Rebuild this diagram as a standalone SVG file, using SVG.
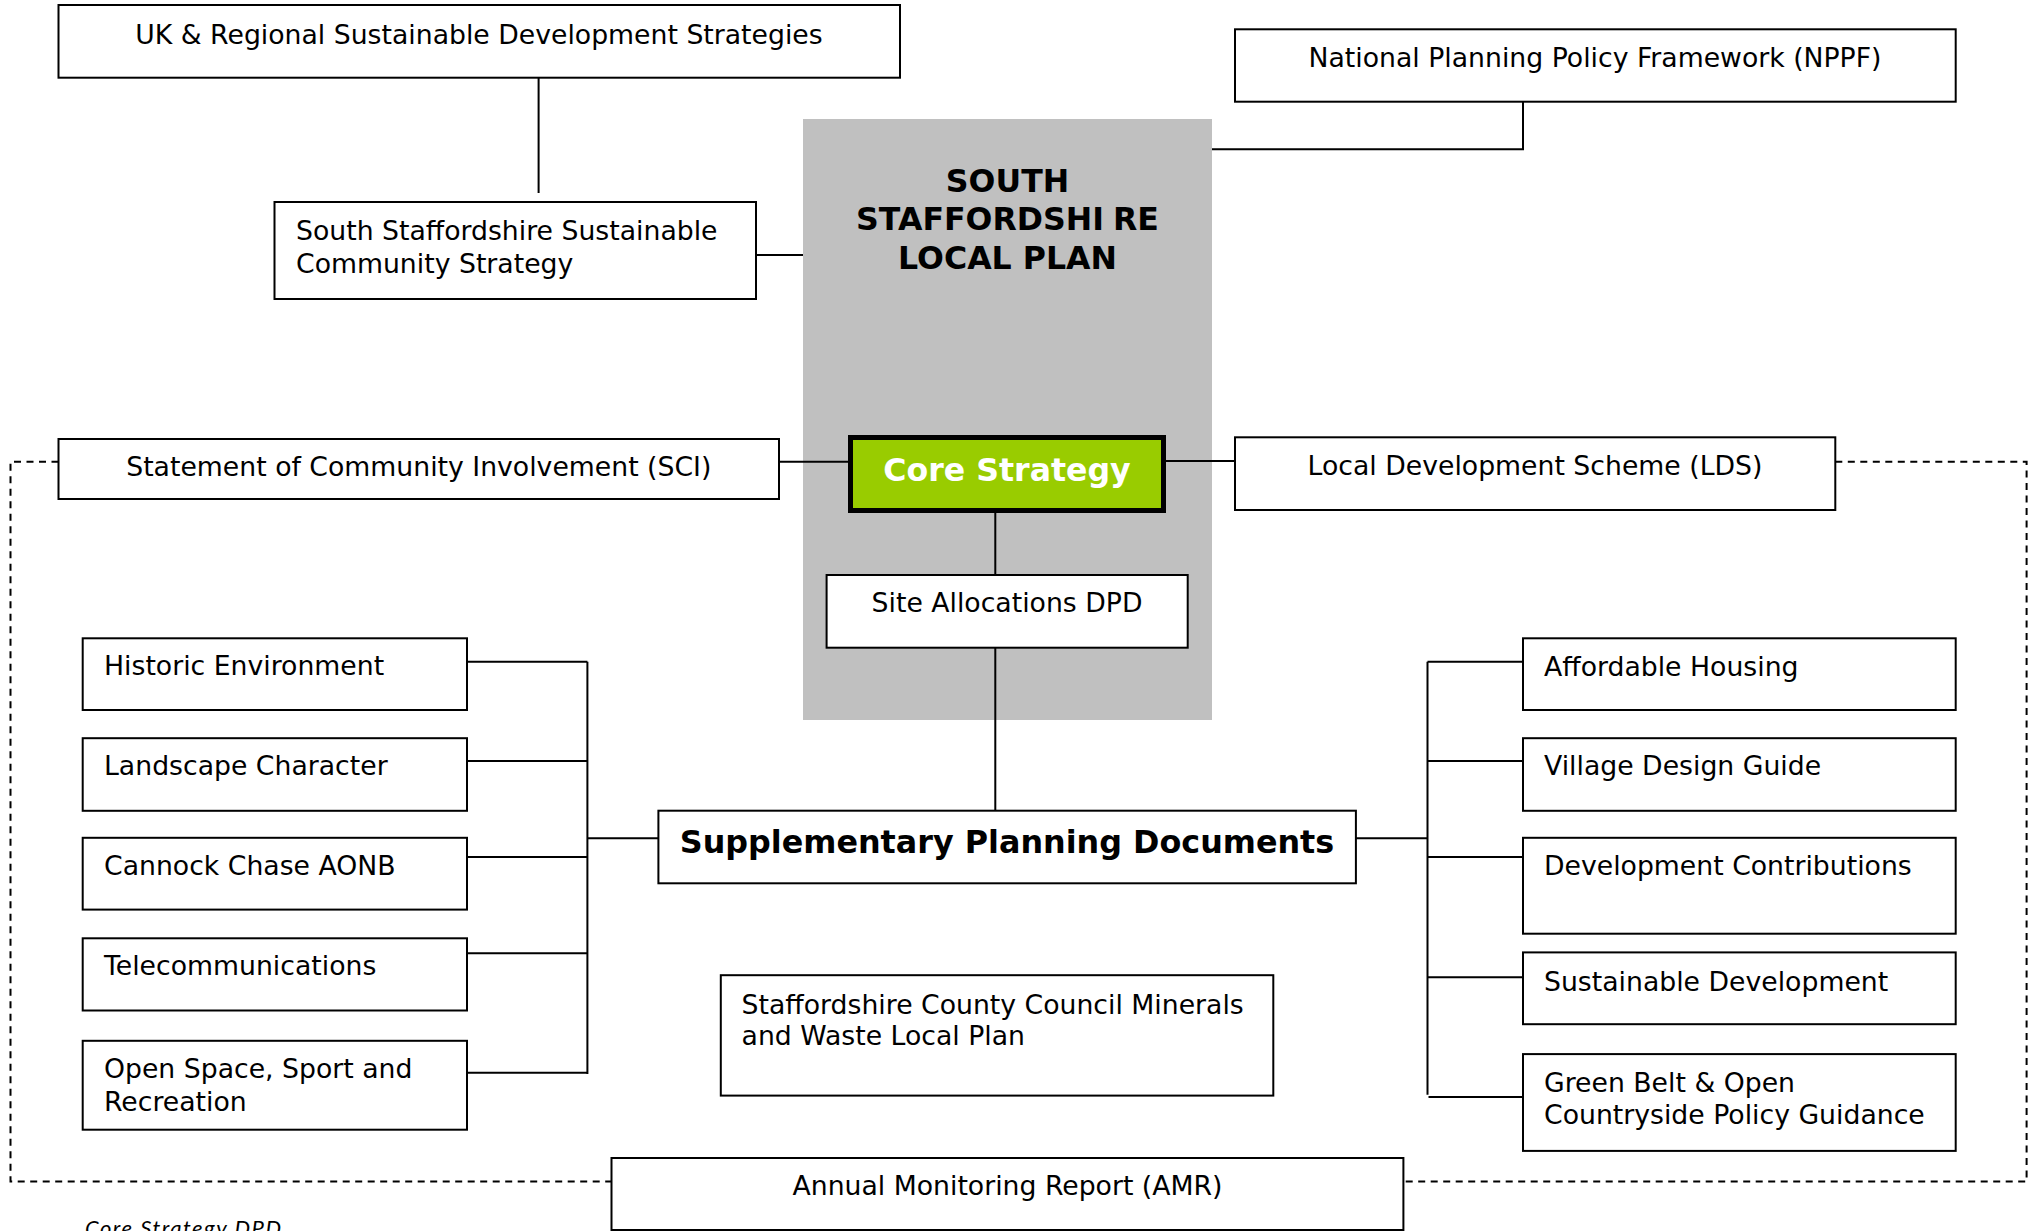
<svg xmlns="http://www.w3.org/2000/svg" width="2037" height="1231" viewBox="0 0 2037 1231">
<style>
.box{fill:#fff;stroke:#000;stroke-width:2}
.t{font-family:"DejaVu Sans",Verdana,sans-serif;font-size:26.7px;fill:#000}
.c{text-anchor:middle}
.b{font-weight:bold;font-size:31.6px}
.spd{font-weight:bold;font-size:31.8px}
.w{fill:#fff}
.ln{fill:none;stroke:#000;stroke-width:2}
.dash{fill:none;stroke:#000;stroke-width:2;stroke-dasharray:7 5.5}
.cap{font-family:Lato,"Open Sans",sans-serif;font-style:italic;font-size:22px;fill:#000}
</style>
<rect width="2037" height="1231" fill="#fff"/>
<g id="local-plan-area">
<rect x="803" y="119" width="409" height="601" fill="#C0C0C0"/>
<text class="t b c" x="1007.5" y="192">SOUTH</text>
<text class="t b c" x="1007.5" y="230"><tspan>STAFFORDSHI</tspan><tspan dx="9">RE</tspan></text>
<text class="t b c" x="1007.5" y="269">LOCAL PLAN</text>
</g>
<g id="connectors">
<path class="ln" d="M538.6,75 V193"/>
<path class="ln" d="M756,255 H803"/>
<path class="ln" d="M1523,101.7 V149.3 H1212"/>
<path class="ln" d="M779,461.7 H849"/>
<path class="ln" d="M1166,461 H1235"/>
<path class="ln" d="M995.3,513 V810.7"/>
<path class="ln" d="M587.4,661.8 V1074"/>
<path class="ln" d="M467,661.8 H587.4 M467,761 H587.4 M467,856.9 H587.4 M467,953.2 H587.4 M467,1072.8 H587.4 M587.4,838.2 H658.4"/>
<path class="ln" d="M1427.5,661.8 V1094.8"/>
<path class="ln" d="M1427.5,661.8 H1523 M1427.5,761 H1523 M1427.5,856.9 H1523 M1427.5,977.3 H1523 M1428.5,1096.9 H1523 M1355.9,838.2 H1427.5"/>
<path class="dash" d="M58.5,461.7 H10.5 V1181.5 H611.5"/>
<path class="dash" d="M1835.3,461.7 H2026.6 V1181.5 H1403.4"/>
</g>
<g id="uk-regional">
<rect class="box" x="58.5" y="5" width="841.5" height="72.7"/>
<text class="t c" x="479" y="44">UK &amp; Regional Sustainable Development Strategies</text>
</g>
<g id="nppf">
<rect class="box" x="1235" y="29.3" width="720.7" height="72.4"/>
<text class="t c" x="1595" y="67">National Planning Policy Framework (NPPF)</text>
</g>
<g id="community-strategy">
<rect class="box" x="274.5" y="202" width="481.5" height="97"/>
<text class="t" x="296" y="240">South Staffordshire Sustainable</text>
<text class="t" x="296" y="273">Community Strategy</text>
</g>
<g id="sci">
<rect class="box" x="58.5" y="439" width="720.5" height="60"/>
<text class="t c" x="418.8" y="476">Statement of Community Involvement (SCI)</text>
</g>
<g id="lds">
<rect class="box" x="1235" y="437.3" width="600.3" height="72.7"/>
<text class="t c" x="1535" y="475">Local Development Scheme (LDS)</text>
</g>
<g id="core-strategy">
<rect x="850.5" y="437.5" width="313" height="73" fill="#99CC00" stroke="#000" stroke-width="5"/>
<text class="t b c w" x="1007" y="481">Core Strategy</text>
</g>
<g id="site-allocations">
<rect class="box" x="826.6" y="575" width="361.1" height="72.7"/>
<text class="t c" x="1007" y="612">Site Allocations DPD</text>
</g>
<g id="spd">
<rect class="box" x="658.4" y="810.7" width="697.5" height="72.6"/>
<text class="t spd c" x="1007" y="853">Supplementary Planning Documents</text>
</g>
<g id="historic">
<rect class="box" x="82.7" y="638.3" width="384.3" height="71.7"/>
<text class="t" x="104" y="675">Historic Environment</text>
</g>
<g id="landscape">
<rect class="box" x="82.7" y="738.2" width="384.3" height="72.6"/>
<text class="t" x="104" y="775">Landscape Character</text>
</g>
<g id="cannock">
<rect class="box" x="82.7" y="837.8" width="384.3" height="71.8"/>
<text class="t" x="104" y="875">Cannock Chase AONB</text>
</g>
<g id="telecom">
<rect class="box" x="82.7" y="938.3" width="384.3" height="72.2"/>
<text class="t" x="104" y="974.5">Telecommunications</text>
</g>
<g id="open-space">
<rect class="box" x="82.7" y="1040.8" width="384.3" height="88.9"/>
<text class="t" x="104" y="1078">Open Space, Sport and</text>
<text class="t" x="104" y="1110.5">Recreation</text>
</g>
<g id="affordable">
<rect class="box" x="1523" y="638.3" width="432.7" height="71.7"/>
<text class="t" x="1544" y="675.5">Affordable Housing</text>
</g>
<g id="village">
<rect class="box" x="1523" y="738.2" width="432.7" height="72.6"/>
<text class="t" x="1544" y="775">Village Design Guide</text>
</g>
<g id="dev-contributions">
<rect class="box" x="1523" y="837.8" width="432.7" height="95.9"/>
<text class="t" x="1544" y="875">Development Contributions</text>
</g>
<g id="sustainable-dev">
<rect class="box" x="1523" y="952.4" width="432.7" height="71.8"/>
<text class="t" x="1544" y="991">Sustainable Development</text>
</g>
<g id="green-belt">
<rect class="box" x="1523" y="1054.1" width="432.7" height="96.8"/>
<text class="t" x="1544" y="1092">Green Belt &amp; Open</text>
<text class="t" x="1544" y="1124">Countryside Policy Guidance</text>
</g>
<g id="minerals-waste">
<rect class="box" x="720.8" y="975.2" width="552.5" height="120.4"/>
<text class="t" x="741.6" y="1014">Staffordshire County Council Minerals</text>
<text class="t" x="741.6" y="1045">and Waste Local Plan</text>
</g>
<g id="amr">
<rect class="box" x="611.5" y="1158" width="791.9" height="72"/>
<text class="t c" x="1007.5" y="1194.5">Annual Monitoring Report (AMR)</text>
</g>
<text class="cap" x="85" y="1236" textLength="196">Core Strategy DPD</text>
</svg>
